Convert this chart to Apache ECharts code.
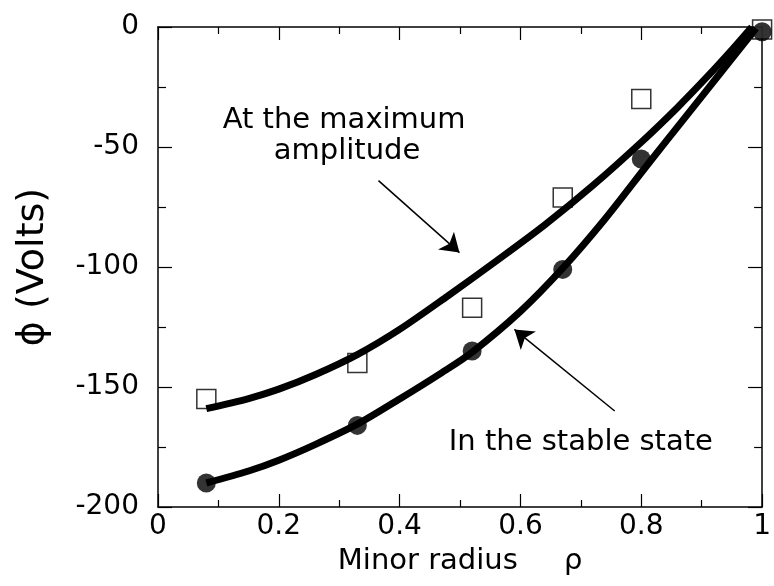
<!DOCTYPE html>
<html>
<head>
<meta charset="utf-8">
<script src="https://cdn.jsdelivr.net/npm/echarts@6.0.0/dist/echarts.min.js"></script>
<style>
  html, body { margin: 0; padding: 0; background: #fff; }
  #main { width: 774px; height: 586px; }
</style>
</head>
<body>
<div id="main"></div>
<script>
// measured points (rho, volts)
var rho = [0.08, 0.33, 0.52, 0.67, 0.80, 1.0];
var maxAmp = [-155, -140, -117, -71, -30, -1];
var stable = [-190, -166, -135, -101, -55, -2];

// fitted curves
var fitMaxX = [0.08, 0.15, 0.2, 0.26, 0.33, 0.4, 0.48, 0.56, 0.64, 0.72, 0.8, 0.86, 0.91, 0.95, 0.983];
var fitMaxY = [-159, -154.8, -150.9, -144.9, -136.5, -126, -112, -97.5, -82.5, -66, -48, -33.5, -20.5, -9.5, 0];
var fitStableX = [0.08, 0.15, 0.2, 0.26, 0.33, 0.4, 0.47, 0.52, 0.6, 0.67, 0.74, 0.81, 0.87, 0.93, 0.99];
var fitStableY = [-190, -185, -180.5, -174, -165.5, -155, -144, -135.5, -118.5, -100.5, -80, -57.5, -38.5, -19.5, -0.5];

// arrows: [x0, y0, x1, y1]
var arrows = [
    [0.365, -64, 0.499, -94],
    [0.756, -160, 0.59, -126]
];
// annotations: [text, x, y]
var notes = [
    ['At the maximum', 0.308, -39],
    ['amplitude', 0.313, -52],
    ['In the stable state', 0.70, -173]
];

var font = 'DejaVu Sans';
var chart = echarts.init(document.getElementById('main'));

function pairs(xs, ys){
    var out = [];
    for(var i=0;i<xs.length;i++){
        out.push([xs[i], ys[i]]);
    }
    return out;
}

var arrowData = [];
for(var i=0;i<arrows.length;i++){
    arrowData.push([
        {coord: [arrows[i][0], arrows[i][1]]},
        {coord: [arrows[i][2], arrows[i][3]]}
    ]);
}

function xAx(pos, showLabel){
    return {
        type: 'value', position: pos, min: 0, max: 1, interval: 0.2,
        name: showLabel ? 'Minor radius     ρ' : '',
        nameLocation: 'middle', nameGap: 40,
        nameTextStyle: {fontFamily: font, fontSize: 29, color: '#000'},
        axisLine: {show: true, onZero: false, lineStyle: {color: '#000', width: 1.5}},
        axisTick: {show: true, inside: true, length: 13, lineStyle: {color: '#000', width: 1.2}},
        minorTick: {show: true, splitNumber: 2, length: 7, lineStyle: {color: '#000', width: 1.2}},
        axisLabel: {show: showLabel, margin: 6, fontFamily: font, fontSize: 28, color: '#000'},
        splitLine: {show: false}
    };
}
function yAx(pos, showLabel){
    return {
        type: 'value', position: pos, min: -200, max: 0, interval: 50,
        name: showLabel ? 'ϕ (Volts)' : '',
        nameLocation: 'middle', nameGap: 106,
        nameTextStyle: {fontFamily: font, fontSize: 38, color: '#000'},
        axisLine: {show: true, onZero: false, lineStyle: {color: '#000', width: 1.5}},
        axisTick: {show: true, inside: true, length: 14, lineStyle: {color: '#000', width: 1.2}},
        minorTick: {show: true, splitNumber: 2, length: 8, lineStyle: {color: '#000', width: 1.2}},
        axisLabel: {show: showLabel, margin: 19, fontFamily: font, fontSize: 28, color: '#000', padding: [0, 0, 8, 0]},
        splitLine: {show: false}
    };
}

option = {
    animation: false,
    backgroundColor: '#fff',
    grid: {left: 158, right: 3, top: 27, bottom: 79},
    xAxis: [xAx('bottom', true), xAx('top', false)],
    yAxis: [yAx('left', true), yAx('right', false)],
    series: [
        {
            name: 'max', type: 'scatter', symbol: 'rect', symbolSize: 19,
            data: pairs(rho, maxAmp),
            itemStyle: {color: '#fff', borderColor: '#000', borderWidth: 1.5},
            z: 2
        },
        {
            name: 'stable', type: 'scatter', symbol: 'circle', symbolSize: 19,
            data: pairs(rho, stable),
            itemStyle: {color: '#000'},
            z: 3
        },
        {
            name: 'fitMax', type: 'line', smooth: 0.3, showSymbol: false, symbol: 'none',
            data: pairs(fitMaxX, fitMaxY),
            lineStyle: {color: '#000', width: 7},
            z: 4
        },
        {
            name: 'fitStable', type: 'line', smooth: 0.3, showSymbol: false, symbol: 'none',
            data: pairs(fitStableX, fitStableY),
            lineStyle: {color: '#000', width: 7},
            z: 4
        },
        {
            // arrows only
            name: 'arrows', type: 'line', data: [],
            markLine: {
                silent: true,
                symbol: ['none', 'arrow'],
                symbolSize: 18,
                label: {show: false},
                itemStyle: {color: '#000'},
                lineStyle: {color: '#000', width: 1.5, type: 'solid'},
                data: arrowData
            },
            z: 5
        }
    ]
};
chart.setOption(option);

// text annotations placed through the axes
var texts = [];
for(var j=0;j<notes.length;j++){
    var p = chart.convertToPixel({xAxisIndex: 0, yAxisIndex: 0}, [notes[j][1], notes[j][2]]);
    texts.push({
        type: 'text', x: p[0], y: p[1], z: 10,
        style: {text: notes[j][0], fill: '#000', font: '29px "' + font + '"', align: 'center', verticalAlign: 'middle'}
    });
}
chart.setOption({graphic: texts});
</script>
</body>
</html>
